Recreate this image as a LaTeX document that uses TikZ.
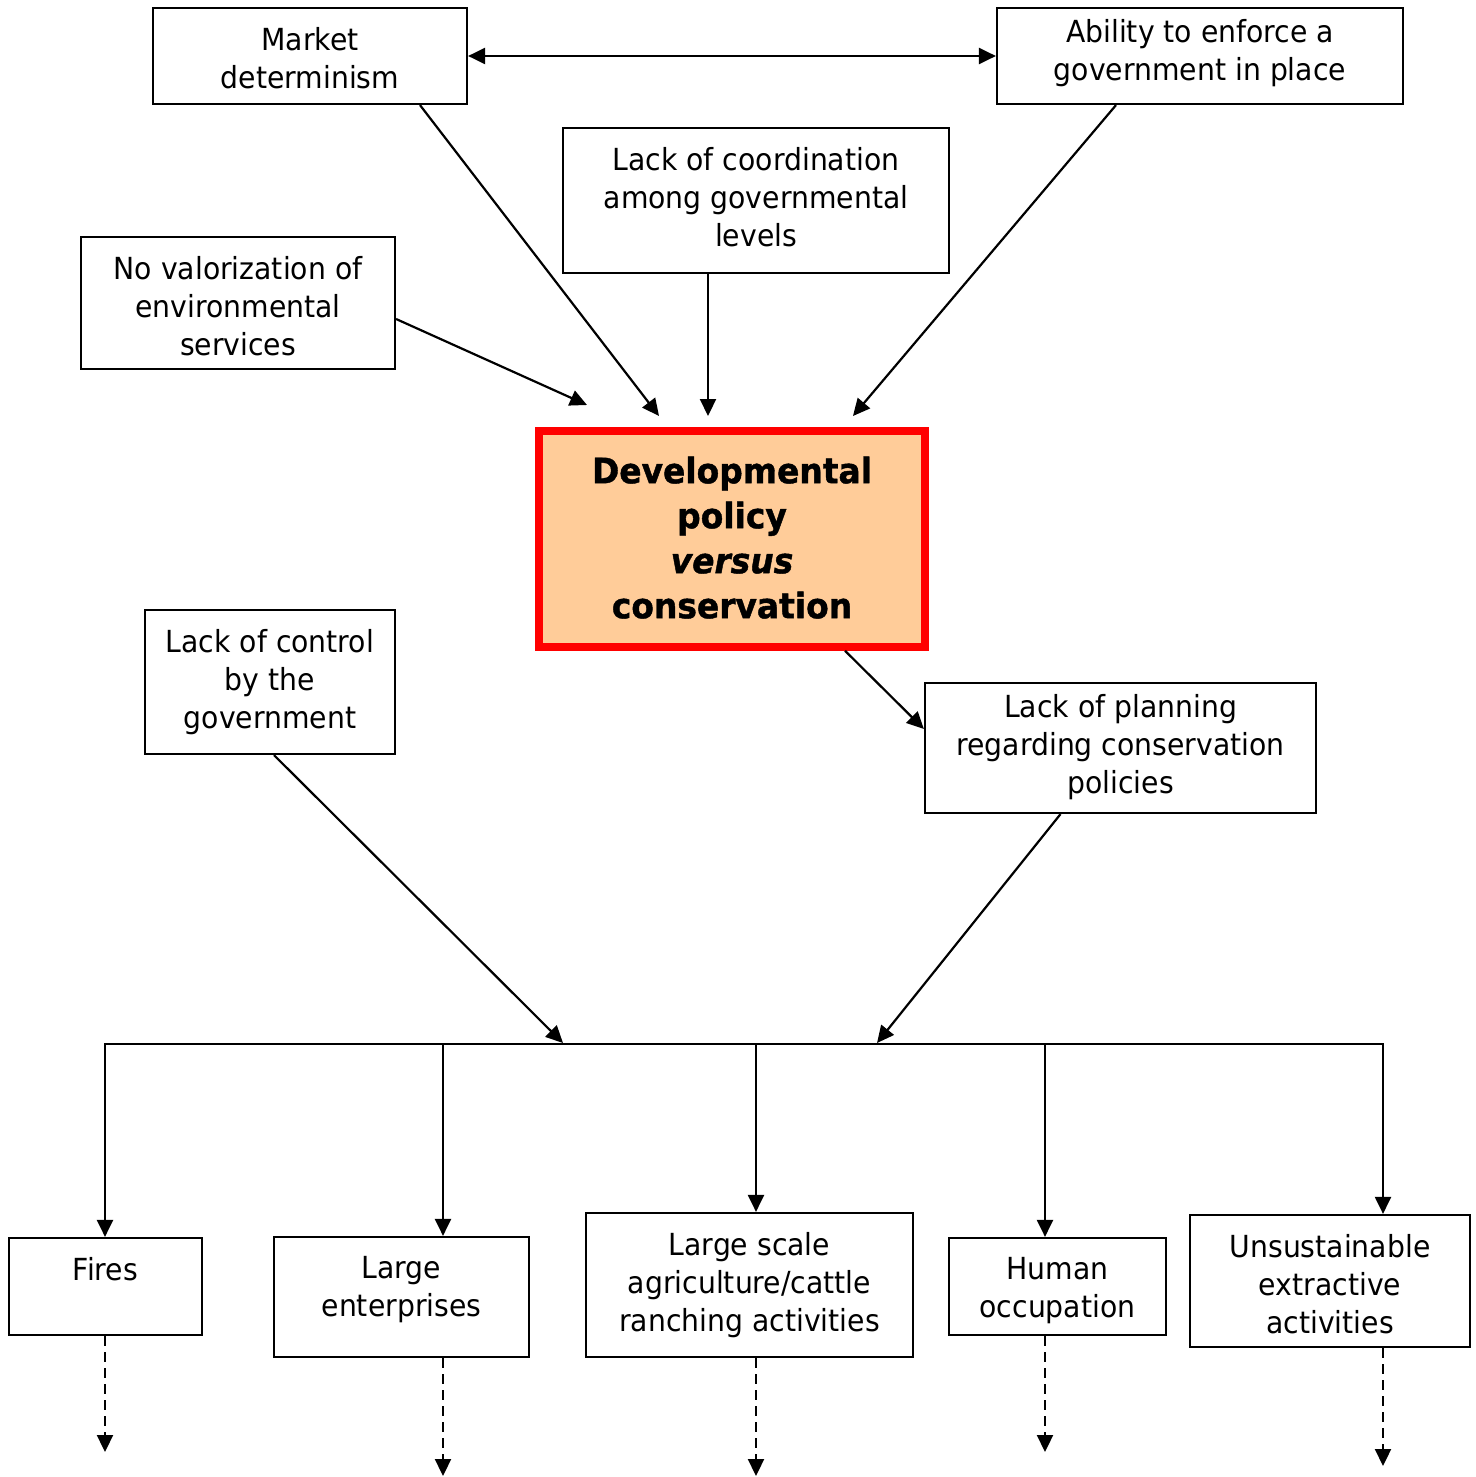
\documentclass[tikz,border=0pt]{standalone}
\usepackage{fontspec}
\setmainfont{DejaVu Sans}[FakeStretch=0.93]
\newfontfamily\bfam{DejaVu Sans}[FakeStretch=0.94,FakeBold=1.2]
\usetikzlibrary{arrows.meta,calc}
\definecolor{peach}{HTML}{FFCC99}
\definecolor{redb}{HTML}{FF0000}
\begin{document}
\begin{tikzpicture}[x=0.5pt,y=-0.5pt,
  box/.style={draw=black,line width=1.1pt,inner sep=0pt,fill=white},
  txt/.style={inner sep=0pt,align=center,anchor=north,font=\fontsize{15.2}{19}\selectfont},
  tip/.style={Triangle[length=8.5pt,width=8pt]},
  arr/.style={line width=1.1pt,-{Triangle[length=8.5pt,width=8pt]}},
  arrtwo/.style={line width=1.1pt,{Triangle[length=8.5pt,width=8pt]}-{Triangle[length=8.5pt,width=8pt]}},
  darr/.style={line width=1.1pt,dash pattern=on 5pt off 3pt,-{Triangle[length=8.5pt,width=8pt]}},
  hline/.style={line width=1.1pt,line cap=rect}]
\useasboundingbox (0,0) rectangle (1476,1477);
% boxes
\node[box,minimum width=157pt,minimum height=48pt] (market) at (310,56) {};
\node[box,minimum width=203pt,minimum height=48pt] (ability) at (1200,56) {};
\node[box,minimum width=193pt,minimum height=72.5pt] (coord) at (756,200.5) {};
\node[box,minimum width=157pt,minimum height=66pt] (noval) at (238,303) {};
\node[draw=redb,fill=peach,line width=3.75pt,inner sep=0pt,minimum width=193pt,minimum height=108pt] (central) at (732,539) {};
\node[box,minimum width=125pt,minimum height=72pt] (control) at (270,682) {};
\node[box,minimum width=195.5pt,minimum height=65pt] (planning) at (1120.5,748) {};
\node[box,minimum width=96.5pt,minimum height=48.5pt] (fires) at (105.5,1286.5) {};
\node[box,minimum width=127.5pt,minimum height=60pt] (ent) at (401.5,1297) {};
\node[box,minimum width=163.5pt,minimum height=72pt] (lscale) at (749.5,1285) {};
\node[box,minimum width=108.5pt,minimum height=48.5pt] (human) at (1057.5,1286.5) {};
\node[box,minimum width=140pt,minimum height=66pt] (unsust) at (1330,1281) {};
% texts
\node[txt] (marketT) at ($(market.north)+(0,20)$) {Market\\determinism};
\node[txt] (abilityT) at ($(ability.north)+(0,12)$) {Ability to enforce a\\government in place};
\node[txt] (coordT) at ($(coord.north)+(0,20)$) {Lack of coordination\\among governmental\\levels};
\node[txt] (novalT) at ($(noval.north)+(0,20)$) {No valorization of\\environmental\\services};
\node[inner sep=0pt,align=center,anchor=north,font=\bfam\bfseries\fontsize{17.5}{22.5}\selectfont] (centralT) at ($(central.north)+(0,29)$) {Developmental\\policy\\\itshape versus\\conservation};
\node[txt] (controlT) at ($(control.north)+(0,20)$) {Lack of control\\by the\\government};
\node[txt] (planningT) at ($(planning.north)+(0,12)$) {Lack of planning\\regarding conservation\\policies};
\node[txt] (firesT) at ($(fires.north)+(0,20)$) {Fires};
\node[txt] (entT) at ($(ent.north)+(0,20)$) {Large\\enterprises};
\node[txt] (lscaleT) at ($(lscale.north)+(0,20)$) {Large scale\\agriculture/cattle\\ranching activities};
\node[txt] (humanT) at ($(human.north)+(0,20)$) {Human\\occupation};
\node[txt] (unsustT) at ($(unsust.north)+(0,20)$) {Unsustainable\\extractive\\activities};
% arrow end points
\coordinate (e1) at (587,405);
\coordinate (e2) at (659,416);
\coordinate (e3) at (708,416);
\coordinate (e4) at (853,416);
\coordinate (j1) at (563,1043);
\coordinate (j2) at (877,1043);
\coordinate (hl) at (105,1044);
\coordinate (hr) at (1383,1044);
\coordinate (d1) at (105,1452);
\coordinate (d2) at (443,1476);
\coordinate (d3) at (756,1476);
\coordinate (d4) at (1045,1452);
\coordinate (d5) at (1383,1466);
% connectors
\draw[arrtwo] (market.east) -- (ability.west);
\draw[arr] ($(market.south)+(110,0)$) -- (e2);
\draw[arr] ($(coord.south)+(-48,0)$) -- (e3);
\draw[arr] ($(ability.south)+(-84,0)$) -- (e4);
\draw[arr] ($(noval.east)+(0,16)$) -- (e1);
\draw[arr] ($(central.south)+(113,0)$) -- ($(planning.west)+(0,-19)$);
\draw[arr] ($(control.south)+(4,0)$) -- (j1);
\draw[arr] ($(planning.south)+(-60,0)$) -- (j2);
\draw[hline] (hl) -- (hr);
\draw[arr] (hl) -- (fires.north -| hl);
\draw[arr] (hl -| d2) -- (ent.north -| d2);
\draw[arr] (hl -| d3) -- (lscale.north -| d3);
\draw[arr] (hl -| d4) -- (human.north -| d4);
\draw[arr] (hr) -- (unsust.north -| hr);
\draw[darr] (fires.south -| d1) -- (d1);
\draw[darr] (ent.south -| d2) -- (d2);
\draw[darr] (lscale.south -| d3) -- (d3);
\draw[darr] (human.south -| d4) -- (d4);
\draw[darr] (unsust.south -| d5) -- (d5);
\end{tikzpicture}
\end{document}
